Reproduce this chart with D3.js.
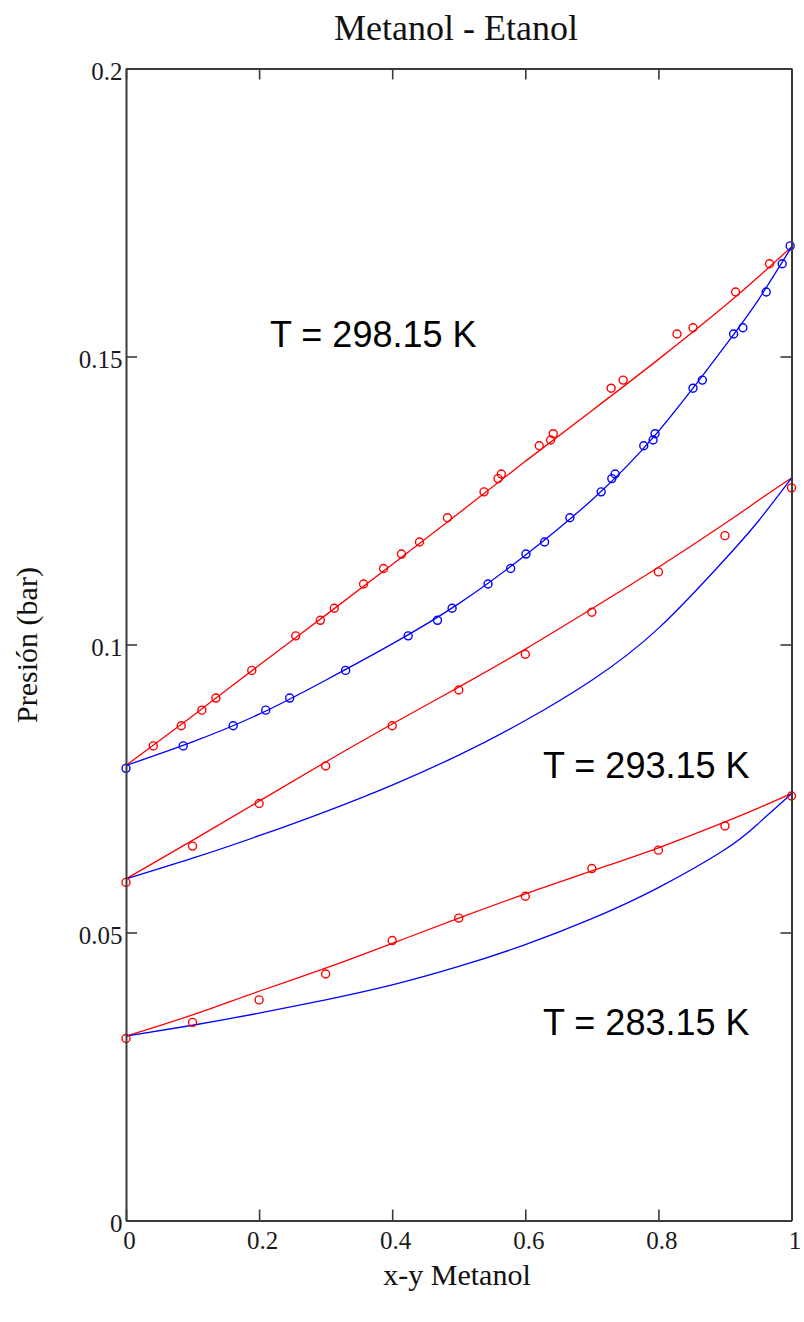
<!DOCTYPE html>
<html>
<head>
<meta charset="utf-8">
<script src="https://cdn.jsdelivr.net/npm/d3@7"></script>
<style>
  html, body { margin: 0; padding: 0; background: #fff; }
  svg { display: block; }
</style>
</head>
<body>
<svg id="chart" width="804" height="1322"></svg>
<script>
// Vapour–liquid equilibrium, methanol–ethanol: P vs x (bubble, red) and y (dew, blue)

// Composition grid for the model curves
const curveX = [0, 0.1, 0.2, 0.3, 0.4, 0.5, 0.6, 0.7, 0.8, 0.9, 0.95, 1.0];

// T = 298.15 K model curves (bar)
const bubble298 = [0.0790, 0.0876, 0.0964, 0.1051, 0.1139, 0.1228, 0.1318, 0.1406, 0.1495, 0.1588, 0.1638, 0.1690];
const dew298    = [0.0790, 0.0831, 0.0879, 0.0938, 0.1001, 0.1071, 0.1155, 0.1251, 0.1370, 0.1518, 0.1598, 0.1690];
// T = 293.15 K model curves
const bubble293 = [0.0593, 0.0660, 0.0728, 0.0796, 0.0862, 0.0926, 0.0992, 0.1062, 0.1134, 0.1210, 0.1250, 0.1289];
const dew293    = [0.0593, 0.0629, 0.0668, 0.0710, 0.0756, 0.0808, 0.0868, 0.0938, 0.1028, 0.1148, 0.1214, 0.1289];
// T = 283.15 K model curves
const bubble283 = [0.0320, 0.0357, 0.0398, 0.0438, 0.0481, 0.0525, 0.0567, 0.0607, 0.0647, 0.0692, 0.0716, 0.0741];
const dew283    = [0.0320, 0.0339, 0.0360, 0.0383, 0.0409, 0.0441, 0.0479, 0.0524, 0.0578, 0.0644, 0.0689, 0.0741];

// Experimental data, 298.15 K
const expP298 = [0.0824, 0.0859, 0.0886, 0.0907, 0.0955, 0.1015, 0.1042, 0.1063, 0.1105, 0.1132, 0.1157, 0.1178, 0.1220,
                 0.1265, 0.1288, 0.1296, 0.1345, 0.1355, 0.1366, 0.1445, 0.1459, 0.1539, 0.1550, 0.1612, 0.1661];
const expX298 = [0.041, 0.083, 0.114, 0.135, 0.189, 0.255, 0.292, 0.313, 0.357, 0.387, 0.414, 0.441, 0.483,
                 0.538, 0.559, 0.564, 0.621, 0.638, 0.642, 0.729, 0.747, 0.828, 0.852, 0.916, 0.967];
const expYP298 = [0.0785, 0.0824, 0.0859, 0.0886, 0.0907, 0.0955, 0.1015, 0.1042, 0.1063, 0.1105, 0.1132, 0.1157, 0.1178, 0.1220,
                  0.1265, 0.1288, 0.1296, 0.1345, 0.1355, 0.1366, 0.1445, 0.1459, 0.1539, 0.1550, 0.1612, 0.1661, 0.1692];
const expY298 = [0.000, 0.086, 0.161, 0.210, 0.246, 0.330, 0.424, 0.468, 0.490, 0.544, 0.578, 0.601, 0.629, 0.667,
                 0.714, 0.730, 0.735, 0.778, 0.792, 0.795, 0.852, 0.866, 0.913, 0.927, 0.962, 0.986, 0.998];

// Experimental bubble points, 293.15 K and 283.15 K
const expX293 = [0, 0.1, 0.2, 0.3, 0.4, 0.5, 0.6, 0.7, 0.8, 0.9, 1.0];
const expP293 = [0.0587, 0.0650, 0.0724, 0.0789, 0.0859, 0.0921, 0.0983, 0.1056, 0.1126, 0.1189, 0.1272];
const expX283 = [0, 0.1, 0.2, 0.3, 0.4, 0.5, 0.6, 0.7, 0.8, 0.9, 1.0];
const expP283 = [0.0316, 0.0344, 0.0383, 0.0428, 0.0486, 0.0525, 0.0563, 0.0611, 0.0643, 0.0685, 0.0737];

// Axis ticks and text
const xTicks = [0, 0.2, 0.4, 0.6, 0.8, 1];
const yTicks = [0, 0.05, 0.1, 0.15, 0.2];
const titleText = "Metanol - Etanol";
const xLabel = "x-y Metanol";
const yLabel = "Presión (bar)";
const tempLabels = ["T = 298.15 K", "T = 293.15 K", "T = 283.15 K"];

const svg = d3.select("#chart");
const plotLeft = 126, plotRight = 791.5, plotTop = 68.5, plotBottom = 1220.5;

const x = d3.scaleLinear().domain([0, 1]).range([plotLeft, plotRight]);
const y = d3.scaleLinear().domain([0, 0.2]).range([plotBottom, plotTop]);

const RED = "#ff0000", BLUE = "#0000ff", AXIS = "#3a3a3a";

// Curves
const line = d3.line().x(d => x(d[0])).y(d => y(d[1])).curve(d3.curveNatural);
function drawCurve(vals, color) {
  svg.append("path")
    .datum(curveX.map((c, i) => [c, vals[i]]))
    .attr("d", line)
    .attr("fill", "none")
    .attr("stroke", color)
    .attr("stroke-width", 1.3);
}
function drawPoints(xs, ps, color) {
  svg.append("g").selectAll("circle")
    .data(xs.map((c, i) => [c, ps[i]]))
    .join("circle")
    .attr("cx", d => x(d[0]))
    .attr("cy", d => y(d[1]))
    .attr("r", 4)
    .attr("fill", "none")
    .attr("stroke", color)
    .attr("stroke-width", 1.4);
}

drawCurve(bubble283, RED);
drawCurve(dew283, BLUE);
drawCurve(bubble293, RED);
drawCurve(dew293, BLUE);
drawCurve(bubble298, RED);
drawCurve(dew298, BLUE);

drawPoints(expX283, expP283, RED);
drawPoints(expX293, expP293, RED);
drawPoints(expX298, expP298, RED);
drawPoints(expY298, expYP298, BLUE);

// Frame with inward ticks on all four sides
const fmt = d3.format("~g");
const gLeft = svg.append("g").attr("transform", `translate(${plotLeft},0)`)
  .call(d3.axisLeft(y).tickValues(yTicks).tickSize(-11).tickSizeOuter(0).tickPadding(3.5).tickFormat(fmt));
const gBottom = svg.append("g").attr("transform", `translate(0,${plotBottom})`)
  .call(d3.axisBottom(x).tickValues(xTicks).tickSize(-11).tickSizeOuter(0).tickPadding(11).tickFormat(fmt));
const gRight = svg.append("g").attr("transform", `translate(${plotRight},0)`)
  .call(d3.axisRight(y).tickValues(yTicks).tickSize(-11).tickSizeOuter(0).tickFormat(""));
const gTop = svg.append("g").attr("transform", `translate(0,${plotTop})`)
  .call(d3.axisTop(x).tickValues(xTicks).tickSize(-11).tickSizeOuter(0).tickFormat(""));

[gLeft, gBottom, gRight, gTop].forEach(g => {
  g.select(".domain").attr("stroke", AXIS).attr("stroke-width", 2);
  g.selectAll(".tick line").attr("stroke", AXIS).attr("stroke-width", 1.6);
  g.selectAll(".tick text")
    .attr("fill", "#1a1a1a")
    .attr("font-family", "'Liberation Serif', 'Times New Roman', serif")
    .attr("font-size", 25);
});
gLeft.selectAll(".tick text").attr("dy", "0.44em");
gBottom.selectAll(".tick text").attr("dx", 3);

// Titles
svg.append("text")
  .attr("x", 456).attr("y", 40)
  .attr("text-anchor", "middle")
  .attr("font-family", "'Liberation Serif', 'Times New Roman', serif")
  .attr("font-size", 36)
  .attr("fill", "#111")
  .text(titleText);

svg.append("text")
  .attr("x", 457).attr("y", 1285)
  .attr("text-anchor", "middle")
  .attr("font-family", "'Liberation Serif', 'Times New Roman', serif")
  .attr("font-size", 30)
  .attr("fill", "#111")
  .text(xLabel);

svg.append("text")
  .attr("transform", "translate(37,645) rotate(-90)")
  .attr("text-anchor", "middle")
  .attr("font-family", "'Liberation Serif', 'Times New Roman', serif")
  .attr("font-size", 30)
  .attr("fill", "#111")
  .text(yLabel);

// Temperature annotations
const annPos = [[270, 346.5], [543, 778], [543, 1035]];
svg.append("g").selectAll("text")
  .data(tempLabels)
  .join("text")
  .attr("x", (d, i) => annPos[i][0])
  .attr("y", (d, i) => annPos[i][1])
  .attr("font-family", "'Liberation Sans', Arial, sans-serif")
  .attr("font-size", 36)
  .attr("fill", "#000")
  .text(d => d);
</script>
</body>
</html>
